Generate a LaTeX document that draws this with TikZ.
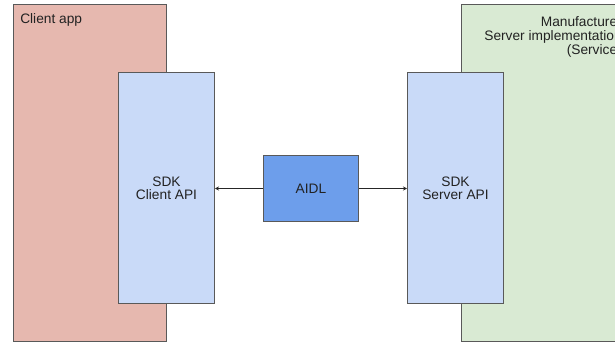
\documentclass[tikz,border=0pt]{standalone}
\usepackage{fontspec}
\setmainfont{Liberation Sans}
\usetikzlibrary{arrows.meta}
\definecolor{appred}{HTML}{E6B8AF}
\definecolor{mfggreen}{HTML}{D9EAD3}
\definecolor{sdkblue}{HTML}{C9DAF8}
\definecolor{aidlblue}{HTML}{6D9EEB}
\definecolor{edgegray}{HTML}{595959}
\definecolor{txt}{HTML}{222222}
\tikzset{
  box/.style={draw=edgegray, line width=0.75pt, rectangle, inner sep=0pt, anchor=north west},
  lbl/.style={inner sep=0pt, text=txt, font=\fontsize{10.3}{10}\selectfont},
  arr/.style={draw=black!85, line width=0.6pt, -{Stealth[length=3pt,width=3pt]}}
}
\begin{document}
\begin{tikzpicture}[x=0.75pt,y=-0.75pt]
\useasboundingbox (0,0) rectangle (615,342);
\clip (0,0) rectangle (615,342);
% Client side
\node[box, fill=appred, minimum width=114.75pt, minimum height=252.75pt] (app) at (13,4) {};
\node[lbl, anchor=base west] (applbl) at (20,24) {Client app};
\node[box, fill=sdkblue, minimum width=72pt, minimum height=173.25pt, align=center, text=txt, font=\fontsize{10.3}{10}\selectfont, anchor=north west] (capi) at (118,72) {SDK\\Client API};
% Manufacturer side
\node[box, fill=mfggreen, minimum width=123pt, minimum height=252.75pt] (mfg) at (461,4) {};
\node[lbl, anchor=base east] (m1) at (622,27) {Manufacturer};
\node[lbl, anchor=base east] (m2) at (622,41) {Server implementation};
\node[lbl, anchor=base east] (m3) at (622,55) {(Service)};
\node[box, fill=sdkblue, minimum width=72pt, minimum height=173.25pt, align=center, text=txt, font=\fontsize{10.3}{10}\selectfont] (sapi) at (407,72) {SDK\\Server API};
% AIDL
\node[box, fill=aidlblue, minimum width=71.25pt, minimum height=49.5pt, text=txt, font=\fontsize{10.3}{10}\selectfont] (aidl) at (263,155) {AIDL};
\draw[arr] (aidl.west) -- (capi.east |- aidl.west);
\draw[arr] (aidl.east) -- (sapi.west |- aidl.east);
\end{tikzpicture}
\end{document}
